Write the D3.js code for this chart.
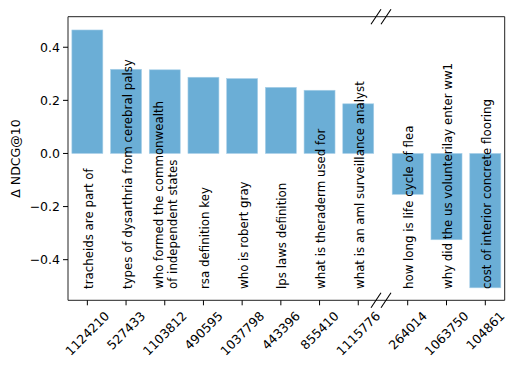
<!DOCTYPE html>
<html>
<head>
    <meta charset="utf-8">
    <title>delta ndcg</title>
    <script src="https://d3js.org/d3.v7.min.js"></script>
</head>
<style>
    body {
        margin: 0;
        overflow: hidden;
        background: white;
    }
    svg text {
        font-family: "DejaVu Sans", sans-serif;
    }
</style>
<body>
    <svg></svg>
    <script>
        // query ids (x tick labels), query text and change in NDCG@10
        const queryIds = ["1124210", "527433", "1103812", "490595", "1037798", "443396",
            "855410", "1115776", "264014", "1063750", "104861"];
        const queries = ["tracheids are part of", "types of dysarthria from cerebral palsy",
            "who formed the commonwealth\nof independent states", "rsa definition key",
            "who is robert gray", "lps laws definition", "what is theraderm used for",
            "what is an aml surveillance analyst", "how long is life cycle of flea",
            "why did the us volunterilay enter ww1", "cost of interior concrete flooring"];
        const deltas = [0.465, 0.317, 0.315, 0.287, 0.282, 0.249, 0.238, 0.187,
            -0.154, -0.325, -0.506];
        const yTicks = [-0.4, -0.2, 0.0, 0.2, 0.4];
        const leftCount = 8;

        const width = 517, height = 369;
        const svg = d3.select("svg").attr("width", width).attr("height", height);

        const axL = 68, axR = 504.7, axT = 16.7, axB = 300.3;
        const gapL = 377.6, gapR = 388.3;

        const rows = queryIds.map((id, i) => ({ id: id, q: queries[i], v: deltas[i] }));
        const leftRows = rows.slice(0, leftCount);
        const rightRows = rows.slice(leftCount);

        const xl = d3.scaleBand().domain(leftRows.map(d => d.id))
            .range([axL, gapL]).paddingInner(0.2).paddingOuter(0.1);
        const xr = d3.scaleBand().domain(rightRows.map(d => d.id))
            .range([gapR, axR]).paddingInner(0.2).paddingOuter(0.1);
        const xOf = d => (leftRows.includes(d) ? xl : xr);

        const y = d3.scaleLinear().domain([-0.553, 0.515]).range([axB, axT]);

        // bars
        svg.append("g")
            .selectAll("rect")
            .data(rows)
            .enter().append("rect")
            .attr("x", d => xOf(d)(d.id))
            .attr("width", d => xOf(d).bandwidth())
            .attr("y", d => y(Math.max(0, d.v)))
            .attr("height", d => Math.abs(y(d.v) - y(0)))
            .attr("fill", "#6baed6")
            .attr("stroke", "#a9d0e8")
            .attr("stroke-width", 0.6);

        // query text inside the columns, reading bottom to top
        const fs = 11.8, lineH = fs * 1.15;
        const qLabel = svg.append("g")
            .selectAll("text")
            .data(rows)
            .enter().append("text")
            .attr("font-size", fs + "px")
            .attr("fill", "black");
        qLabel.each(function (d) {
            const lines = d.q.split("\n");
            const cx = xOf(d)(d.id) + xOf(d).bandwidth() / 2;
            const base = cx + 5.5 - (lines.length - 1) * lineH / 2;
            const t = d3.select(this)
                .attr("transform", `translate(${base}, 289) rotate(-90)`);
            lines.forEach((line, i) => {
                t.append("tspan")
                    .attr("x", 0)
                    .attr("y", i * lineH)
                    .text(line);
            });
        });

        // spines
        const spine = svg.append("g").attr("stroke", "#222").attr("stroke-width", 1).attr("fill", "none");
        spine.append("line").attr("x1", axL).attr("x2", axL).attr("y1", axT).attr("y2", axB);
        spine.append("line").attr("x1", axR).attr("x2", axR).attr("y1", axT).attr("y2", axB);
        spine.append("line").attr("x1", axL).attr("x2", axR).attr("y1", axT).attr("y2", axT);
        spine.append("line").attr("x1", axL).attr("x2", axR).attr("y1", axB).attr("y2", axB);

        // break marks
        [axT, axB].forEach(yy => {
            [376, 386].forEach(xx => {
                svg.append("line")
                    .attr("x1", xx - 5).attr("y1", yy + 7.5)
                    .attr("x2", xx + 5).attr("y2", yy - 7.5)
                    .attr("stroke", "black").attr("stroke-width", 1.1);
            });
        });

        // y axis
        const yAxis = svg.append("g");
        yTicks.forEach(v => {
            yAxis.append("line")
                .attr("x1", axL - 5).attr("x2", axL)
                .attr("y1", y(v)).attr("y2", y(v))
                .attr("stroke", "black").attr("stroke-width", 1);
            yAxis.append("text")
                .attr("x", axL - 8).attr("y", y(v))
                .attr("text-anchor", "end")
                .attr("dominant-baseline", "central")
                .attr("font-size", "12.5px")
                .text(d3.format(".1f")(v));
        });

        svg.append("text")
            .attr("transform", `translate(20, ${(axT + axB) / 2}) rotate(-90)`)
            .attr("text-anchor", "middle")
            .attr("font-size", "12.5px")
            .text("Δ NDCG@10");

        // x ticks, rotated 45 degrees and centred under the tick
        const xAxis = svg.append("g");
        rows.forEach(d => {
            const cx = xOf(d)(d.id) + xOf(d).bandwidth() / 2;
            xAxis.append("line")
                .attr("x1", cx).attr("x2", cx)
                .attr("y1", axB).attr("y2", axB + 5)
                .attr("stroke", "black").attr("stroke-width", 1);
            const t = xAxis.append("text")
                .attr("text-anchor", "middle")
                .attr("dominant-baseline", "central")
                .attr("font-size", "12.5px")
                .text(d.id);
            const len = t.node().getComputedTextLength();
            const cy = 310.5 + (len + 9) / (2 * Math.SQRT2);
            t.attr("transform", `translate(${cx}, ${cy}) rotate(-45)`);
        });
    </script>
</body>
</html>
